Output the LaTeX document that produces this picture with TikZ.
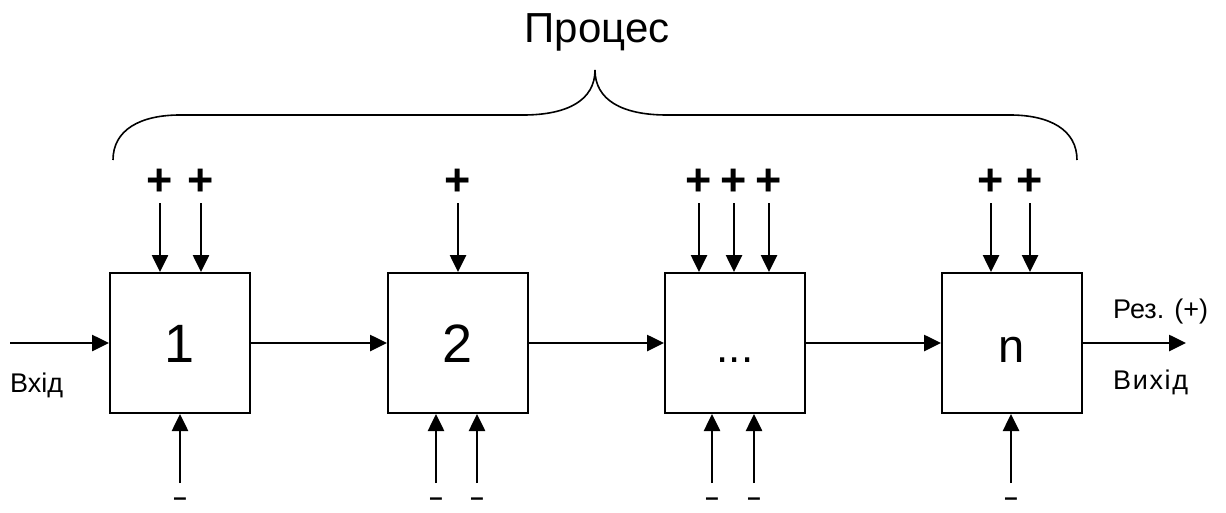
\documentclass[tikz,border=0pt]{standalone}
\usepackage{fontspec}
\setmainfont{Liberation Sans}
\newfontfamily\boldsans{Liberation Sans Bold}
\usetikzlibrary{arrows.meta}
\tikzset{
  blk/.style={draw, line width=2pt, minimum width=140pt, minimum height=140pt,
    inner sep=0pt, text height=38pt, text depth=0pt,
    font=\fontsize{54}{54}\selectfont},
  arr/.style={line width=2.6pt, -{Triangle[length=17pt,width=16pt]}},
  pl/.style={inner sep=0pt, font=\boldsans\fontsize{45}{45}\selectfont},
  mn/.style={inner sep=0pt, font=\boldsans\fontsize{24}{24}\selectfont},
  lbl/.style={inner sep=0pt, font=\fontsize{27}{30}\selectfont},
  brace/.style={line width=1.6pt}
}
\begin{document}
\begin{tikzpicture}[x=1pt,y=-1pt]
\useasboundingbox (0,0) rectangle (1226,512);
% boxes
\node[blk] (b1) at (180,343) {1};
\node[blk] (b2) at (458,343) {2};
\node[blk] (b3) at (735,343) {{\fontsize{44}{44}\selectfont ...}};
\node[blk] (bn) at (1012,343) {{\fontsize{47}{47}\selectfont n}};
% main flow
\coordinate (in) at (10,343);
\coordinate (out) at (1186,343);
\draw[arr] (in) -- (b1.west);
\draw[arr] (b1.east) -- (b2.west);
\draw[arr] (b2.east) -- (b3.west);
\draw[arr] (b3.east) -- (bn.west);
\draw[arr] (bn.east) -- (out);
% top inputs (+)
\foreach \n/\x/\b in {a/160/b1, b/201/b1, c/458/b2, d/699/b3, e/734/b3, f/769/b3, g/991/bn, h/1030/bn}{
  \coordinate (t\n) at (\x,203);
  \node[pl] (p\n) at (\x,182) {+};
  \draw[arr] (t\n) -- (t\n |- \b.north);
}
% bottom inputs (-)
\foreach \n/\x/\b in {a/180/b1, b/436/b2, c/477/b2, d/712/b3, e/754/b3, f/1011/bn}{
  \coordinate (u\n) at (\x,483);
  \node[mn, anchor=base] (m\n) at (\x,505) {–};
  \draw[arr] (u\n) -- (u\n |- \b.south);
}
% labels
\node[lbl, anchor=base west] (vin) at (10,392) {Вхід};
\node[lbl, anchor=base west] (rez) at (1113,318) {Рез. (+)};
\node[lbl, anchor=base west] (vout) at (1113,389) {\addfontfeatures{LetterSpace=6}Вихід};
% brace and title
\draw[brace] (113,160) .. controls (113,130) and (140,115) .. (180,115)
  -- (523,115) .. controls (568,115) and (595,100) .. (595,70)
  .. controls (595,100) and (622,115) .. (667,115)
  -- (1010,115) .. controls (1050,115) and (1077,130) .. (1077,160);
\node[inner sep=0pt, anchor=base, font=\fontsize{42}{42}\selectfont] (title) at (597,42) {Процес};
\end{tikzpicture}
\end{document}
